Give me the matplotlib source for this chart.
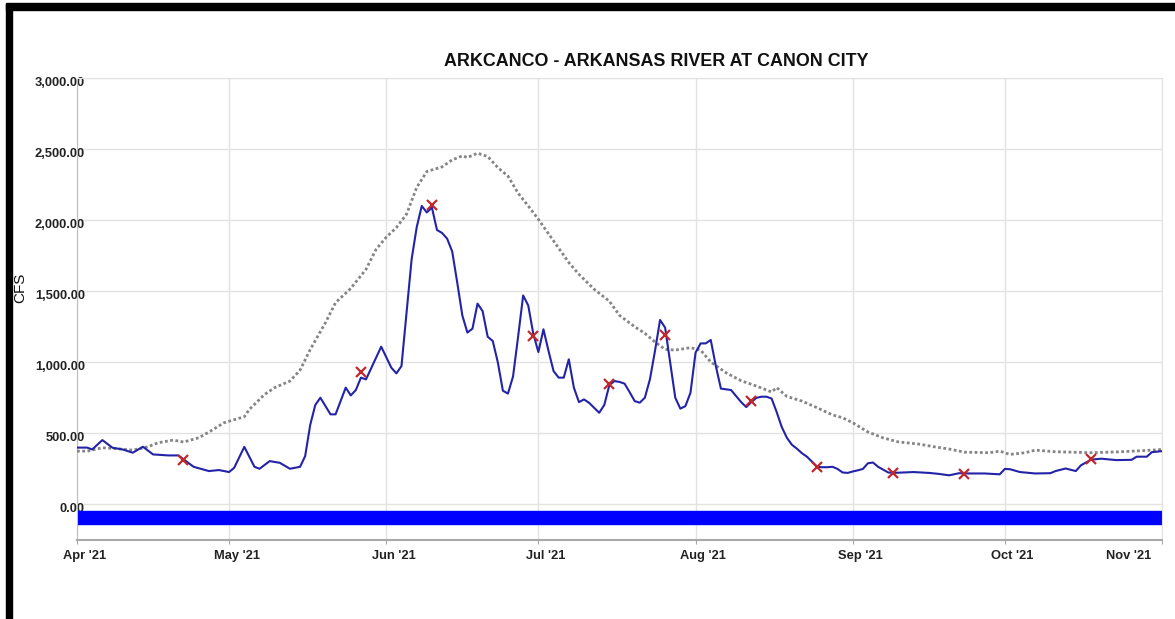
# ============================================
# ARKCANCO - Arkansas River at Canon City, 2021
# ============================================

import matplotlib
matplotlib.use("Agg")
import matplotlib.pyplot as plt
import matplotlib.transforms as mtransforms
from matplotlib.patches import Rectangle
import pandas as pd

# ============================================
# Data
# ============================================

title = "ARKCANCO - ARKANSAS RIVER AT CANON CITY"
y_label = "CFS"

# daily streamflow (blue line)
flow_dates = [
    "2021-04-01", "2021-04-03", "2021-04-04", "2021-04-06", "2021-04-08", "2021-04-10",
    "2021-04-12", "2021-04-14", "2021-04-16", "2021-04-19", "2021-04-21", "2021-04-22",
    "2021-04-24", "2021-04-27", "2021-04-29", "2021-05-01", "2021-05-02", "2021-05-04",
    "2021-05-06", "2021-05-07", "2021-05-09", "2021-05-11", "2021-05-13", "2021-05-15",
    "2021-05-16", "2021-05-17", "2021-05-18", "2021-05-19", "2021-05-21", "2021-05-22",
    "2021-05-24", "2021-05-25", "2021-05-26", "2021-05-27", "2021-05-28", "2021-05-31",
    "2021-06-02", "2021-06-03", "2021-06-04", "2021-06-05", "2021-06-06", "2021-06-07",
    "2021-06-08", "2021-06-09", "2021-06-10", "2021-06-11", "2021-06-12", "2021-06-13",
    "2021-06-14", "2021-06-15", "2021-06-16", "2021-06-17", "2021-06-18", "2021-06-19",
    "2021-06-20", "2021-06-21", "2021-06-22", "2021-06-23", "2021-06-24", "2021-06-25",
    "2021-06-26", "2021-06-27", "2021-06-28", "2021-06-29", "2021-06-30", "2021-07-01",
    "2021-07-02", "2021-07-03", "2021-07-04", "2021-07-05", "2021-07-06", "2021-07-07",
    "2021-07-08", "2021-07-09", "2021-07-10", "2021-07-11", "2021-07-12", "2021-07-13",
    "2021-07-14", "2021-07-15", "2021-07-16", "2021-07-17", "2021-07-18", "2021-07-19",
    "2021-07-20", "2021-07-21", "2021-07-22", "2021-07-23", "2021-07-24", "2021-07-25",
    "2021-07-26", "2021-07-27", "2021-07-28", "2021-07-29", "2021-07-30", "2021-07-31",
    "2021-08-01", "2021-08-02", "2021-08-03", "2021-08-04", "2021-08-05", "2021-08-06",
    "2021-08-07", "2021-08-08", "2021-08-09", "2021-08-10", "2021-08-11", "2021-08-12",
    "2021-08-13", "2021-08-14", "2021-08-15", "2021-08-16", "2021-08-17", "2021-08-18",
    "2021-08-19", "2021-08-20", "2021-08-21", "2021-08-22", "2021-08-23", "2021-08-24",
    "2021-08-25", "2021-08-26", "2021-08-27", "2021-08-28", "2021-08-29", "2021-08-30",
    "2021-08-31", "2021-09-01", "2021-09-02", "2021-09-03", "2021-09-04", "2021-09-05",
    "2021-09-06", "2021-09-07", "2021-09-08", "2021-09-09", "2021-09-11", "2021-09-13",
    "2021-09-16", "2021-09-18", "2021-09-20", "2021-09-22", "2021-09-24", "2021-09-27",
    "2021-09-30", "2021-10-01", "2021-10-02", "2021-10-04", "2021-10-07", "2021-10-10",
    "2021-10-11", "2021-10-13", "2021-10-15", "2021-10-16", "2021-10-18", "2021-10-20",
    "2021-10-23", "2021-10-26", "2021-10-27", "2021-10-29", "2021-10-30", "2021-11-01",
]
flow_values = [
    400, 400, 387, 453, 399, 387,
    364, 406, 352, 345, 345, 318,
    265, 235, 242, 228, 258, 405,
    265, 251, 305, 293, 251, 265,
    340, 560, 700, 751, 634, 634,
    822, 767, 805, 892, 880, 1110,
    962, 922, 974, 1350, 1725, 1950,
    2100, 2054, 2089, 1931, 1910, 1870,
    1780, 1560, 1330, 1209, 1237, 1413,
    1360, 1180, 1150, 1000, 800, 780,
    900, 1180, 1470, 1400, 1200, 1072,
    1232, 1080, 938, 892, 892, 1021,
    822, 720, 739, 715, 680, 645,
    700, 840, 868, 862, 850, 790,
    727, 716, 751, 880, 1080, 1298,
    1244, 1000, 751, 674, 692, 786,
    1068, 1133, 1133, 1157, 974, 815,
    810, 805, 763, 720, 685, 720,
    750, 758, 758, 745, 650, 545,
    470, 420, 392, 360, 335, 300,
    265, 262, 262, 265, 250, 225,
    222, 232, 240, 250, 290, 295,
    265, 245, 225, 222, 225, 228,
    222, 215, 205, 220, 218, 218,
    212, 250, 248, 228, 218, 220,
    235, 253, 235, 275, 315, 322,
    312, 314, 336, 336, 368, 375,
]

# historical average (gray dotted line)
avg_dates = [
    "2021-04-01", "2021-04-03", "2021-04-06", "2021-04-09", "2021-04-12", "2021-04-15",
    "2021-04-17", "2021-04-20", "2021-04-22", "2021-04-25", "2021-04-27", "2021-04-30",
    "2021-05-04", "2021-05-05", "2021-05-08", "2021-05-10", "2021-05-13", "2021-05-15",
    "2021-05-17", "2021-05-20", "2021-05-22", "2021-05-25", "2021-05-28", "2021-05-30",
    "2021-06-01", "2021-06-03", "2021-06-05", "2021-06-07", "2021-06-09", "2021-06-12",
    "2021-06-14", "2021-06-16", "2021-06-17", "2021-06-19", "2021-06-21", "2021-06-23",
    "2021-06-25", "2021-06-27", "2021-06-29", "2021-07-01", "2021-07-04", "2021-07-07",
    "2021-07-09", "2021-07-12", "2021-07-15", "2021-07-17", "2021-07-20", "2021-07-22",
    "2021-07-24", "2021-07-26", "2021-07-28", "2021-07-31", "2021-08-02", "2021-08-04",
    "2021-08-07", "2021-08-10", "2021-08-13", "2021-08-16", "2021-08-17", "2021-08-19",
    "2021-08-22", "2021-08-25", "2021-08-28", "2021-08-30", "2021-09-01", "2021-09-04",
    "2021-09-07", "2021-09-10", "2021-09-14", "2021-09-17", "2021-09-20", "2021-09-23",
    "2021-09-28", "2021-09-30", "2021-10-02", "2021-10-05", "2021-10-07", "2021-10-11",
    "2021-10-18", "2021-10-24", "2021-10-30", "2021-11-01",
]
avg_values = [
    375, 375, 399, 392, 382, 406,
    434, 453, 439, 469, 509, 575,
    617, 669, 774, 822, 868, 945,
    1090, 1279, 1420, 1520, 1654, 1795,
    1880, 1948, 2042, 2230, 2342, 2375,
    2424, 2452, 2441, 2471, 2448, 2370,
    2310, 2190, 2100, 2006, 1854, 1702,
    1619, 1514, 1430, 1330, 1250, 1204,
    1143, 1091, 1086, 1103, 1086, 1002,
    927, 870, 833, 791, 822, 760,
    727, 680, 630, 610, 575, 510,
    468, 440, 425, 406, 390, 368,
    364, 375, 352, 364, 382, 371,
    364, 371, 382, 387,
]

# field measurements (red x)
meas_dates = [
    "2021-04-22", "2021-05-27", "2021-06-10", "2021-06-30", "2021-07-15", "2021-07-26",
    "2021-08-12", "2021-08-25", "2021-09-09", "2021-09-23", "2021-10-18",
]
meas_values = [312, 935, 2105, 1185, 845, 1195, 730, 262, 222, 215, 322]

y_ticks = [0, 500, 1000, 1500, 2000, 2500, 3000]
month_labels = ["Apr '21", "May '21", "Jun '21", "Jul '21", "Aug '21",
                "Sep '21", "Oct '21", "Nov '21"]

flow_dates = pd.to_datetime(flow_dates)
avg_dates = pd.to_datetime(avg_dates)
meas_dates = pd.to_datetime(meas_dates)
month_ticks = pd.date_range("2021-04-01", "2021-11-01", freq="MS")

# ============================================
# Figure
# ============================================

plt.rcParams["font.family"] = ["Liberation Sans", "DejaVu Sans"]

W, H = 1175, 619
fig = plt.figure(figsize=(W / 100, H / 100), dpi=100)
ax = fig.add_axes([77 / W, 1 - 540 / H, 1085 / W, 462 / H])

ax.axhspan(-137, -46, color="#0000ff", zorder=2)
ax.plot(avg_dates, avg_values, color="#858585", lw=2.0,
        linestyle=(0, (1, 0.9)), zorder=3)
ax.plot(flow_dates, flow_values, color="#2323a8", lw=1.5, zorder=4)
ax.plot(meas_dates, meas_values, linestyle="none", marker="x", ms=6.5,
        mew=1.6, color="#c0282d", zorder=5)

ax.set_xlim(pd.Timestamp("2021-04-01"), pd.Timestamp("2021-11-01"))
ax.set_ylim(-250, 3000)

ax.set_yticks(y_ticks)
ax.set_yticklabels([f"{v:,.2f}" for v in y_ticks])
ax.set_xticks(month_ticks)
ax.set_xticklabels(month_labels)

ax.grid(True, color="#e2e2e2", lw=1.0)
ax.set_axisbelow(True)

ax.spines["left"].set_color("#b3c8a6")
ax.spines["bottom"].set_color("#a8a8a8")
ax.spines["bottom"].set_linewidth(1.5)
ax.spines["top"].set_color("#e2e2e2")
ax.spines["right"].set_color("#e2e2e2")

ax.tick_params(axis="y", length=0, pad=0, labelsize=9.3)
ax.tick_params(axis="x", length=3, color="#a8a8a8", pad=4.2, labelsize=9.3)

for lab in ax.get_yticklabels():
    lab.set_fontweight("bold")
    lab.set_color("#222222")
    lab.set_transform(lab.get_transform() +
                      mtransforms.ScaledTranslation(0.08, -0.03, fig.dpi_scale_trans))

xlabs = ax.get_xticklabels()
for lab in xlabs:
    lab.set_fontweight("bold")
    lab.set_color("#222222")
    lab.set_transform(lab.get_transform() +
                      mtransforms.ScaledTranslation(0.075, 0, fig.dpi_scale_trans))
xlabs[-1].set_horizontalalignment("right")
xlabs[-1].set_transform(ax.get_xaxis_transform() +
                        mtransforms.ScaledTranslation(-0.11, -0.1, fig.dpi_scale_trans))
xlabs[-1].set_verticalalignment("top")

# ============================================
# Title, axis label and frame
# ============================================

fig.text(656 / W, 1 - 62 / H, title, ha="center", va="center",
         fontsize=12.9, fontweight="bold", color="#111111")
fig.text(20 / W, 1 - 288 / H, y_label, rotation=90, ha="center",
         va="center", fontsize=11, color="#111111")

fig.add_artist(Rectangle((6 / W, 1 - 9.5 / H), 1, 6 / H,
                         transform=fig.transFigure, color="black"))
fig.add_artist(Rectangle((6 / W, 0), 6 / W, 1 - 3.5 / H,
                         transform=fig.transFigure, color="black"))

plt.savefig("out.png", dpi=100)
